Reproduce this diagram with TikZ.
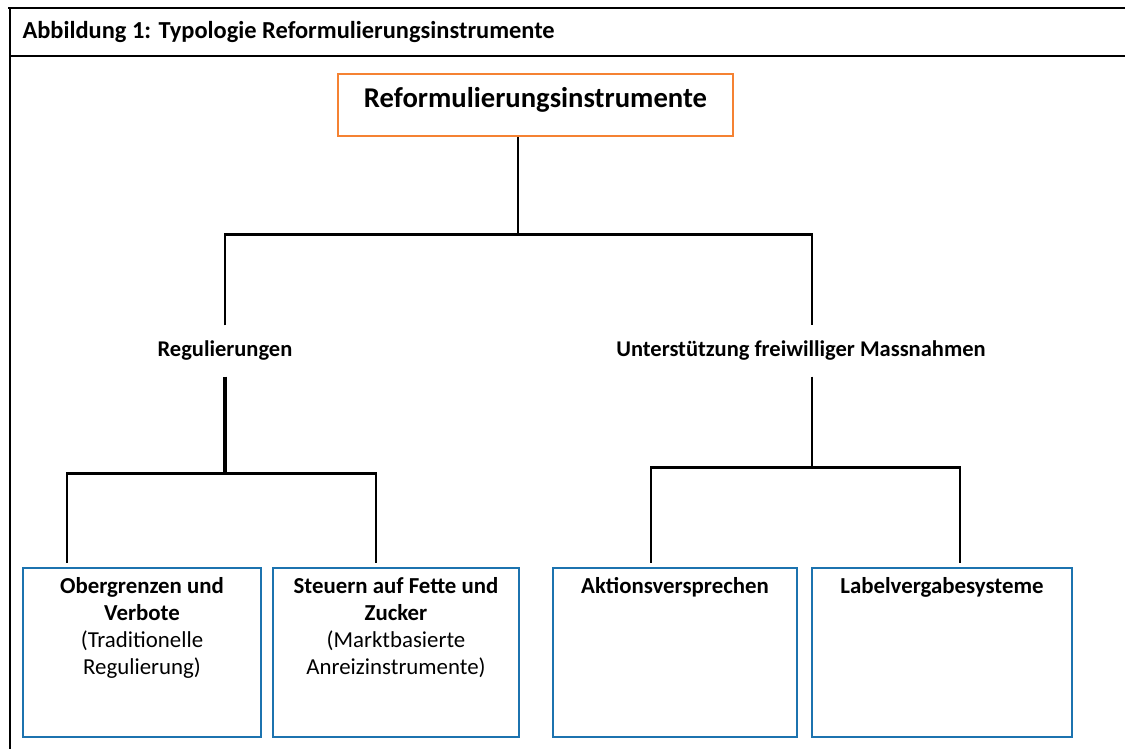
\documentclass[tikz,border=0pt]{standalone}
\usepackage{fontspec}
\setmainfont{Carlito}
\usepackage{xcolor}
\usepackage{tikz}
\usetikzlibrary{positioning,calc}
\definecolor{rfOrange}{RGB}{245,130,50}
\definecolor{rfBlue}{RGB}{28,115,175}
\newcommand{\kastentext}[2]{\parbox[t][3cm][t]{#1}{\centering #2}}

\begin{document}
\begin{tikzpicture}[semithick]
	\tikzstyle{rahmen} = [line width=1.7pt]
	\tikzstyle{conn} = [line width=1.3pt]
	\tikzstyle{topblock} = [draw=rfOrange,line width=1.6pt,rectangle,minimum width=7.9cm,minimum height=1.24cm,text depth=0.3cm,font=\fontsize{16.3}{19}\selectfont\bfseries]
	\tikzstyle{level} = [rectangle,minimum height=1cm,font=\fontsize{12.8}{15}\selectfont\bfseries]
	\tikzstyle{kasten} = [draw=rfBlue,line width=1.5pt,rectangle,inner xsep=0pt,inner ysep=0.19cm,font=\fontsize{13}{15.4}\selectfont]

	\useasboundingbox (0,0) rectangle (22.5,-14.98);
	% Rahmen und Titel
	\draw[rahmen] (0.16,-0.16) -- (22.5,-0.16);
	\draw[rahmen] (0.2,-1.12) -- (22.5,-1.12);
	\draw[line width=1.2pt] (0.2,-0.16) -- (0.2,-14.98);
	\node[anchor=west,inner sep=0pt,font=\fontsize{13.9}{16}\selectfont\bfseries] (titel) at (0.44,-0.64) {Abbildung 1: Typologie Reformulierungsinstrumente};

	\node[topblock] (R) at (10.71,-2.1) {Reformulierungsinstrumente};
	\node[level] (Reg) at (4.5,-7.02) {Regulierungen};
	\node[level] (UFM) at (16.02,-7.02) {Unterstützung freiwilliger Massnahmen};

	\node[kasten] (K1) at (2.84,-13.05) {\kastentext{4.76cm}{\textbf{Obergrenzen und\\ Verbote}\\ (Traditionelle\\ Regulierung)}};
	\node[kasten] (K2) at (7.92,-13.05) {\kastentext{4.92cm}{\textbf{Steuern auf Fette und\\ Zucker}\\ (Marktbasierte\\ Anreizinstrumente)}};
	\node[kasten] (K3) at (13.5,-13.05) {\kastentext{4.88cm}{\textbf{Aktionsversprechen}}};
	\node[kasten] (K4) at (18.84,-13.05) {\kastentext{5.2cm}{\textbf{Labelvergabesysteme}}};

	% Verbindungen
	\draw[conn] ([xshift=-0.35cm] R.south) -- ++(0,-1.94) coordinate (hubR);
	\draw[conn] (Reg.north) |- (hubR) -| ([xshift=0.22cm]UFM.north);

	\draw[line width=2pt] (Reg.south) -- ++(0,-1.94) coordinate (hubReg);
	\draw[conn] ([xshift=-1.5cm,yshift=0.08cm]K1.north) |- (hubReg) -| ([xshift=-0.4cm,yshift=0.08cm]K2.north);

	\draw[conn] ([xshift=0.22cm]UFM.south) -- ++(0,-1.82) coordinate (hubUFM);
	\draw[conn] ([xshift=-0.48cm,yshift=0.08cm]K3.north) |- (hubUFM) -| ([xshift=0.36cm,yshift=0.08cm]K4.north);

\end{tikzpicture}
\end{document}
